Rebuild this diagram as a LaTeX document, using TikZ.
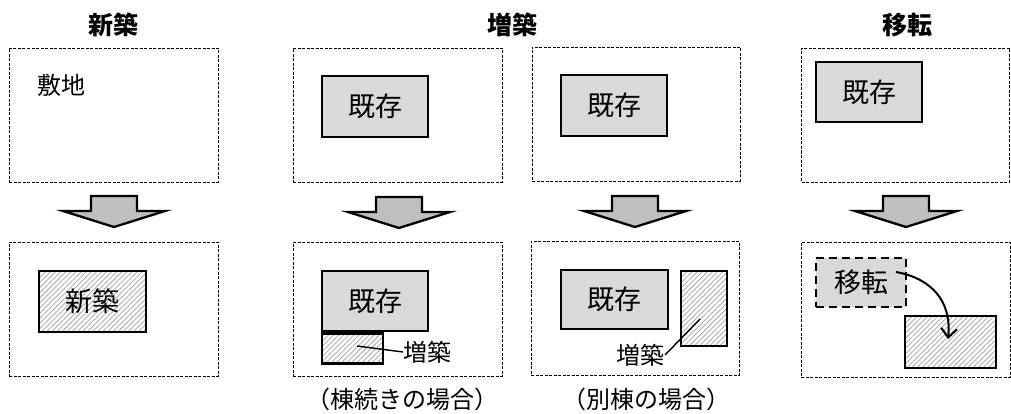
\documentclass[tikz,border=0pt]{standalone}
\usepackage{fontspec}
\newfontfamily\jp{Noto Sans CJK JP}
\usetikzlibrary{patterns.meta,arrows.meta}
\begin{document}
\begin{tikzpicture}[x=1pt,y=-1pt,
  site/.style={draw,dashed,dash pattern=on 3pt off 1.5pt,line width=0.8pt,inner sep=0pt},
  kizon/.style={draw,line width=2.6pt,fill=black!15,inner sep=0pt,font=\jp\fontsize{27}{30}\selectfont},
  hatch/.style={draw,line width=2.6pt,inner sep=0pt,pattern={Lines[angle=45,distance=3.6pt,line width=0.9pt]},pattern color=black!32,font=\jp\fontsize{27}{30}\selectfont},
  moved/.style={draw,line width=2.6pt,dash pattern=on 8pt off 5pt,fill=black!15,inner sep=0pt,font=\jp\fontsize{27}{30}\selectfont},
  ttl/.style={font=\jp\bfseries\fontsize{25}{28}\selectfont,inner sep=0pt},
  lbl/.style={font=\jp\fontsize{24}{27}\selectfont,inner sep=0pt},
  captxt/.style={font=\jp\fontsize{24}{27}\selectfont,inner sep=0pt},
  barrow/.style={draw,line width=2.3pt,fill=black!25,line join=miter},
  lead/.style={line width=1.4pt}
]
\useasboundingbox (0,0) rectangle (1011,414);
% titles
\node[ttl] (t1) at (113,25) {新築};
\node[ttl] (t2) at (512,25) {増築};
\node[ttl] (t3) at (907,25) {移転};
% top sites
\node[site,minimum width=209pt,minimum height=134pt] (s1) at (113.5,115) {};
\node[site,minimum width=209pt,minimum height=134pt] (s2) at (397.5,115) {};
\node[site,minimum width=208pt,minimum height=134pt] (s3) at (636,114) {};
\node[site,minimum width=208pt,minimum height=134pt] (s4) at (905.5,115) {};
\node[lbl] (sk) at (61,85) {敷地};
\node[kizon,minimum width=106pt,minimum height=61pt] (k2) at (375,106.5) {既存};
\node[kizon,minimum width=106pt,minimum height=61pt] (k3) at (614,105.5) {既存};
\node[kizon,minimum width=106pt,minimum height=60pt] (k4) at (869,92) {既存};
% block arrows
\foreach \c/\t in {114/196,399/197,635/196,906/196}{
  \draw[barrow] (\c-23,\t) -- (\c+23,\t) -- (\c+23,\t+15) -- (\c+51,\t+15) -- (\c,\t+31) -- (\c-51,\t+15) -- (\c-23,\t+15) -- cycle;
}
% bottom sites
\node[site,minimum width=209pt,minimum height=134pt] (b1) at (113.5,309) {};
\node[site,minimum width=209pt,minimum height=134pt] (b2) at (397.5,309) {};
\node[site,minimum width=208pt,minimum height=134pt] (b3) at (635,308) {};
\node[site,minimum width=209pt,minimum height=135pt] (b4) at (905.5,309.5) {};
% panel 1
\node[hatch,minimum width=107pt,minimum height=61pt] (n1) at (92.5,301.5) {新築};
% panel 2
\node[kizon,minimum width=106pt,minimum height=60pt] (k2b) at (375,301) {既存};
\node[hatch,minimum width=61pt,minimum height=30pt,anchor=north west] (z2) at (k2b.south west) {};
\node[lbl,anchor=west] (z2l) at (403,352) {増築};
\coordinate (l2) at (357,346);
\draw[lead] (l2) -- (z2l.west);
\node[captxt] (c2) at (402,399) {（棟続きの場合）};
% panel 3
\node[kizon,minimum width=107pt,minimum height=59pt] (k3b) at (614.5,299.5) {既存};
\node[hatch,minimum width=46pt,minimum height=75pt] (z3) at (704,308.5) {};
\node[lbl,anchor=east] (z3l) at (665,355) {増築};
\coordinate (l3) at (700,319);
\draw[lead] (l3) -- (z3l.east);
\node[captxt] (c3) at (646,399) {（別棟の場合）};
% panel 4
\node[moved,minimum width=90pt,minimum height=49pt] (mv) at (861,282.5) {移転};
\node[hatch,minimum width=91pt,minimum height=52pt] (z4) at (950.5,342) {};
\coordinate (a0) at (896,272);
\coordinate (a1) at (948,339);
\draw[line width=2pt,-{Straight Barb[length=9pt,width=16pt,line width=2pt]}] (a0) .. controls (930,278) and (952,300) .. (a1);
\end{tikzpicture}
\end{document}
